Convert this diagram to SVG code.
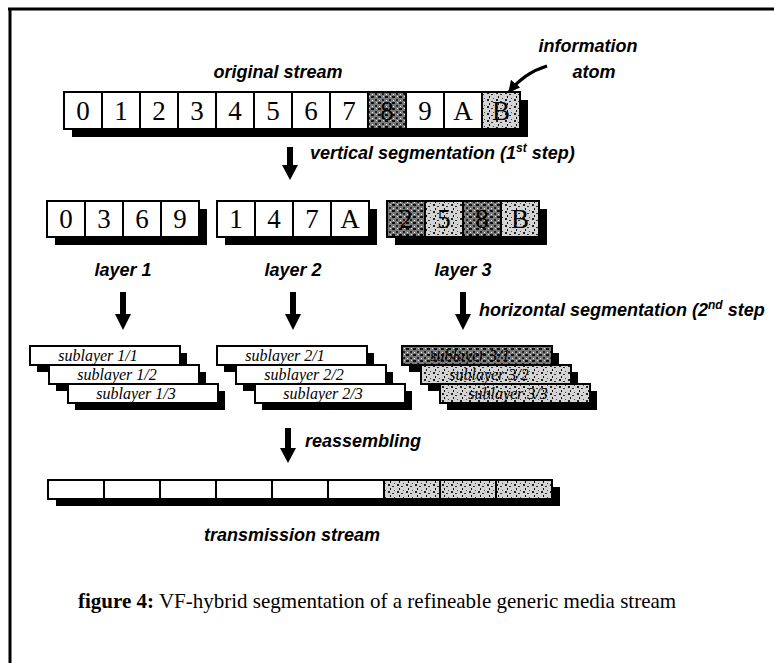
<svg xmlns="http://www.w3.org/2000/svg" width="774" height="663" viewBox="0 0 774 663">
<defs>
<pattern id="spk" width="9" height="7" patternUnits="userSpaceOnUse">
<rect width="9" height="7" fill="#d4d4d4"/>
<rect x="1" y="1" width="2" height="2" fill="#222"/>
<rect x="5" y="3" width="2" height="1" fill="#333"/>
<rect x="3" y="5" width="1" height="2" fill="#111"/>
<rect x="7" y="0" width="1" height="1" fill="#444"/>
</pattern>
<pattern id="spkD" width="7" height="6" patternUnits="userSpaceOnUse">
<rect width="7" height="6" fill="#7a7a7a"/>
<rect x="0" y="0" width="3" height="2" fill="#111"/>
<rect x="4" y="3" width="2" height="2" fill="#222"/>
<rect x="1" y="4" width="1" height="1" fill="#eee"/>
<rect x="5" y="0" width="1" height="1" fill="#ddd"/>
</pattern>
<marker id="ah" viewBox="0 0 10 10" refX="9" refY="5" markerWidth="4" markerHeight="4" orient="auto">
<path d="M0,0 L10,5 L0,10 z" fill="#000"/>
</marker>
</defs>
<style>
.lbl{font-family:"Liberation Sans",Arial,sans-serif;font-style:italic;font-weight:bold;font-size:18px;fill:#000}
.dig{font-family:"Liberation Serif","Times New Roman",serif;font-size:27px;fill:#000;text-anchor:middle}
.sub{font-family:"Liberation Serif","Times New Roman",serif;font-style:italic;font-size:16px;fill:#000;text-anchor:middle}
.cell{fill:#fff;stroke:#000;stroke-width:2}
.shd{fill:#000}
.cap{font-family:"Liberation Serif","Times New Roman",serif;font-size:21px;fill:#000}
</style>
<rect width="774" height="663" fill="#fff"/>
<g id="frame">
<line x1="8" y1="9" x2="774" y2="9" stroke="#000" stroke-width="3"/>
<line x1="10" y1="8" x2="10" y2="663" stroke="#000" stroke-width="3"/>
</g>

<g id="original-stream">
<text class="lbl" x="278" y="78" text-anchor="middle">original stream</text>
<rect class="shd" x="72" y="100" width="456" height="37"/>
<rect class="cell" x="64" y="92" width="38" height="37"/>
<rect class="cell" x="102" y="92" width="38" height="37"/>
<rect class="cell" x="140" y="92" width="38" height="37"/>
<rect class="cell" x="178" y="92" width="38" height="37"/>
<rect class="cell" x="216" y="92" width="38" height="37"/>
<rect class="cell" x="254" y="92" width="38" height="37"/>
<rect class="cell" x="292" y="92" width="38" height="37"/>
<rect class="cell" x="330" y="92" width="38" height="37"/>
<rect class="cell" x="368" y="92" width="38" height="37" style="fill:url(#spkD)"/>
<rect class="cell" x="406" y="92" width="38" height="37"/>
<rect class="cell" x="444" y="92" width="38" height="37"/>
<rect class="cell" x="482" y="92" width="38" height="37" style="fill:url(#spk)"/>
<text class="dig" x="83" y="120">0</text>
<text class="dig" x="121" y="120">1</text>
<text class="dig" x="159" y="120">2</text>
<text class="dig" x="197" y="120">3</text>
<text class="dig" x="235" y="120">4</text>
<text class="dig" x="273" y="120">5</text>
<text class="dig" x="311" y="120">6</text>
<text class="dig" x="349" y="120">7</text>
<text class="dig" x="387" y="120">8</text>
<text class="dig" x="425" y="120">9</text>
<text class="dig" x="463" y="120">A</text>
<text class="dig" x="501" y="120">B</text>
</g>

<g id="info-atom">
<text class="lbl" x="588" y="52" text-anchor="middle">information</text>
<text class="lbl" x="594" y="78" text-anchor="middle">atom</text>
</g>

<g id="layer1">
<rect class="shd" x="55" y="209" width="152" height="36"/>
<rect class="cell" x="47" y="201" width="38" height="36"/>
<rect class="cell" x="85" y="201" width="38" height="36"/>
<rect class="cell" x="123" y="201" width="38" height="36"/>
<rect class="cell" x="161" y="201" width="38" height="36"/>
<text class="dig" x="66" y="228">0</text>
<text class="dig" x="104" y="228">3</text>
<text class="dig" x="142" y="228">6</text>
<text class="dig" x="180" y="228">9</text>
<text class="lbl" x="123" y="276" text-anchor="middle">layer 1</text>
</g>
<g id="layer2">
<rect class="shd" x="225" y="209" width="152" height="36"/>
<rect class="cell" x="217" y="201" width="38" height="36"/>
<rect class="cell" x="255" y="201" width="38" height="36"/>
<rect class="cell" x="293" y="201" width="38" height="36"/>
<rect class="cell" x="331" y="201" width="38" height="36"/>
<text class="dig" x="236" y="228">1</text>
<text class="dig" x="274" y="228">4</text>
<text class="dig" x="312" y="228">7</text>
<text class="dig" x="350" y="228">A</text>
<text class="lbl" x="293" y="276" text-anchor="middle">layer 2</text>
</g>
<g id="layer3">
<rect class="shd" x="395" y="209" width="152" height="36"/>
<rect class="cell" x="387" y="201" width="38" height="36" style="fill:url(#spkD)"/>
<rect class="cell" x="425" y="201" width="38" height="36" style="fill:url(#spk)"/>
<rect class="cell" x="463" y="201" width="38" height="36" style="fill:url(#spkD)"/>
<rect class="cell" x="501" y="201" width="38" height="36" style="fill:url(#spk)"/>
<text class="dig" x="406" y="228">2</text>
<text class="dig" x="444" y="228">5</text>
<text class="dig" x="482" y="228">8</text>
<text class="dig" x="520" y="228">B</text>
<text class="lbl" x="463" y="276" text-anchor="middle">layer 3</text>
</g>

<g id="sublayers1">
<rect class="shd" x="37" y="353" width="150" height="19"/>
<rect class="cell" x="30" y="346" width="150" height="19"/>
<text class="sub" x="98" y="361">sublayer 1/1</text>
<rect class="shd" x="56" y="372" width="150" height="19"/>
<rect class="cell" x="49" y="365" width="150" height="19"/>
<text class="sub" x="117" y="380">sublayer 1/2</text>
<rect class="shd" x="75" y="391" width="150" height="19"/>
<rect class="cell" x="68" y="384" width="150" height="19"/>
<text class="sub" x="136" y="399">sublayer 1/3</text>
</g>
<g id="sublayers2">
<rect class="shd" x="224" y="353" width="150" height="19"/>
<rect class="cell" x="217" y="346" width="150" height="19"/>
<text class="sub" x="285" y="361">sublayer 2/1</text>
<rect class="shd" x="243" y="372" width="150" height="19"/>
<rect class="cell" x="236" y="365" width="150" height="19"/>
<text class="sub" x="304" y="380">sublayer 2/2</text>
<rect class="shd" x="262" y="391" width="150" height="19"/>
<rect class="cell" x="255" y="384" width="150" height="19"/>
<text class="sub" x="323" y="399">sublayer 2/3</text>
</g>
<g id="sublayers3">
<rect class="shd" x="409" y="353" width="150" height="19"/>
<rect class="cell" x="402" y="346" width="150" height="19" style="fill:url(#spkD)"/>
<text class="sub" x="470" y="361">sublayer 3/1</text>
<rect class="shd" x="428" y="372" width="150" height="19"/>
<rect class="cell" x="421" y="365" width="150" height="19" style="fill:url(#spk)"/>
<text class="sub" x="489" y="380">sublayer 3/2</text>
<rect class="shd" x="447" y="391" width="150" height="19"/>
<rect class="cell" x="440" y="384" width="150" height="19" style="fill:url(#spk)"/>
<text class="sub" x="508" y="399">sublayer 3/3</text>
</g>

<g id="transmission-stream">
<rect class="shd" x="56" y="487" width="504" height="19"/>
<rect class="cell" x="48" y="480" width="56" height="19"/>
<rect class="cell" x="104" y="480" width="56" height="19"/>
<rect class="cell" x="160" y="480" width="56" height="19"/>
<rect class="cell" x="216" y="480" width="56" height="19"/>
<rect class="cell" x="272" y="480" width="56" height="19"/>
<rect class="cell" x="328" y="480" width="56" height="19"/>
<rect class="cell" x="384" y="480" width="56" height="19" style="fill:url(#spk)"/>
<rect class="cell" x="440" y="480" width="56" height="19" style="fill:url(#spk)"/>
<rect class="cell" x="496" y="480" width="56" height="19" style="fill:url(#spk)"/>
<text class="lbl" x="292" y="541" text-anchor="middle">transmission stream</text>
</g>

<g id="connectors">
<path d="M547,66 Q524,73 509,92" fill="none" stroke="#000" stroke-width="3" marker-end="url(#ah)"/>
<rect x="287" y="147" width="6" height="20"/><path d="M282,165 L298,165 L290,180 z"/>
<rect x="120" y="292" width="6" height="24"/><path d="M115,314 L131,314 L123,330 z"/>
<rect x="290" y="292" width="6" height="24"/><path d="M285,314 L301,314 L293,330 z"/>
<rect x="460" y="292" width="6" height="24"/><path d="M455,314 L471,314 L463,330 z"/>
<rect x="285" y="428" width="6" height="22"/><path d="M280,448 L296,448 L288,463 z"/>
</g>
<g id="step-labels">
<text class="lbl" x="310" y="159">vertical segmentation (1<tspan font-size="12" dy="-7">st</tspan><tspan dy="7"> step)</tspan></text>
<text class="lbl" x="479" y="316">horizontal segmentation (2<tspan font-size="12" dy="-7">nd</tspan><tspan dy="7"> step</tspan></text>
<text class="lbl" x="305" y="447">reassembling</text>
</g>
<g id="caption">
<text class="cap" x="78" y="608"><tspan font-weight="bold">figure 4:</tspan> VF-hybrid segmentation of a refineable generic media stream</text>
</g>
</svg>
